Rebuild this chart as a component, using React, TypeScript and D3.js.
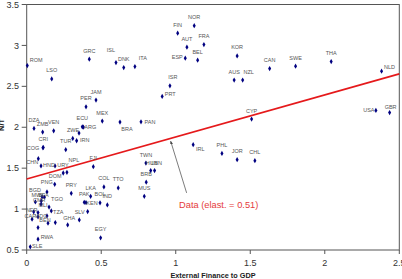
import * as d3 from "d3";

// country codes ("" = unlabeled point)
const countries = [
  "ROM", "LSO", "GRC", "ISL", "DNK", "ITA", "FIN", "NOR", "AUT", "FRA", "ESP", "BEL",
  "ISR", "PRT", "KOR", "AUS", "NZL", "CAN", "SWE", "THA", "NLD", "USA", "GBR", "CYP",
  "IRL", "PHL", "JOR", "CHL", "TWN", "HUN", "LBN", "BRB", "MUS", "PAN", "MEX", "BRA",
  "JAM", "PER", "ECU", "ARG", "DZA", "ZMB", "VEN", "ZWE", "", "IRN", "TUR", "CRI",
  "COG", "CHN", "HND", "URY", "DOM", "NPL", "FJI", "PNG", "PRY", "COL", "TTO", "LKA",
  "PAK", "KEN", "BOL", "IND", "SLV", "GHA", "", "EGY", "BGD", "MWI", "BFA", "CMR",
  "", "MLI", "TGO", "TZA", "NER", "", "CAF", "MDG", "", "BEN", "", "", "RWA", "SLE",
];

// external finance to GDP
const extFinance = [
  0.004, 0.168, 0.42, 0.599, 0.651, 0.726, 1.013, 1.124, 1.075, 1.189, 1.064, 1.147,
  0.961, 0.909, 1.412, 1.392, 1.449, 1.63, 1.804, 2.043, 2.381, 2.343, 2.435, 1.509,
  1.117, 1.31, 1.412, 1.531, 0.8, 0.832, 0.858, 0.802, 0.789, 0.767, 0.507, 0.626,
  0.465, 0.398, 0.373, 0.38, 0.049, 0.107, 0.181, 0.351, 0.309, 0.335, 0.262, 0.111,
  0.109, 0.078, 0.096, 0.19, 0.245, 0.27, 0.447, 0.188, 0.299, 0.518, 0.614, 0.429,
  0.386, 0.398, 0.492, 0.541, 0.409, 0.353, 0.275, 0.496, 0.136, 0.103, 0.119, 0.098,
  0.058, 0.096, 0.15, 0.165, 0.047, 0.076, 0.036, 0.076, 0.136, 0.143, 0.192, 0.076,
  0.076, 0.024,
];

// N/T
const ntValues = [
  2.754, 2.591, 2.832, 2.79, 2.729, 2.741, 3.149, 3.241, 2.978, 3.01, 2.844, 2.82,
  2.506, 2.376, 2.872, 2.576, 2.576, 2.717, 2.746, 2.802, 2.685, 2.205, 2.18, 2.1,
  1.787, 1.68, 1.604, 1.591, 1.563, 1.47, 1.47, 1.329, 1.156, 2.067, 2.076, 2.063,
  2.332, 2.25, 2.006, 2.002, 1.985, 1.941, 1.957, 1.929, 1.863, 1.835, 1.726, 1.754,
  1.748, 1.616, 1.527, 1.527, 1.441, 1.449, 1.518, 1.302, 1.193, 1.271, 1.259, 1.156,
  1.083, 1.079, 1.076, 1.051, 0.97, 0.868, 0.807, 0.649, 1.21, 1.152, 1.146, 1.1,
  1.088, 1.058, 1.024, 0.978, 0.966, 0.957, 0.876, 0.905, 0.917, 0.827, 0.835, 0.774,
  0.632, 0.539,
];

const fitIntercept = 1.368;
const fitSlope = 0.514;
const fitLabel = "Data (elast. = 0.51)";

const xTicks = [0, 0.5, 1, 1.5, 2, 2.5];
const yTicks = [0.5, 1, 1.5, 2, 2.5, 3, 3.5];

// label placement relative to the marker (px), default is centered above
const labelOffset: Record<string, [number, number]> = {
  ROM: [9, -6], ISL: [-5, -13], ITA: [8, -9], ESP: [-8, -1], ISR: [3, -9],
  PRT: [8, -2], NZL: [6, -8], NLD: [8, -4], USA: [-7, 0], GBR: [1, -6],
  IRL: [7, 4], HUN: [1, -8], LBN: [2, -8], PAN: [9, 0], BRA: [7, 7],
  ARG: [7, 0], ZWE: [-6, -3], IRN: [8, -1], COG: [-10, 0], CHN: [-6, 3],
  HND: [8, -1], URY: [8, -1], DOM: [-8, 3], NPL: [7, -12], PNG: [-8, -2],
  KEN: [6, 0], SLV: [-8, 0], GHA: [-10, -2], BGD: [-12, -2], MWI: [-5, -2],
  BFA: [-1, -2], CMR: [-2, -1], MLI: [2, 1], TGO: [8, -8], TZA: [7, 1],
  NER: [-2, -2], CAF: [-2, -3], MDG: [3, -1], BEN: [-3, -3], RWA: [9, -2],
  SLE: [7, -1],
};

export default function App() {
  const width = 402;
  const height = 279;
  const x = d3.scaleLinear([0, 2.5], [26.7, 399.3]);
  const y = d3.scaleLinear([0.5, 3.5], [250, 4.5]);
  const font = "'Liberation Sans', Arial, sans-serif";
  const diamond = d3.symbol(d3.symbolDiamond, 8)();

  const fitLine = d3.line<number>(
    (d) => x(d),
    (d) => y(fitIntercept + fitSlope * d),
  );

  // arrow from the annotation to the fitted line
  const ax0 = 1.073, ay0 = 1.198, ax1 = 0.966, ay1 = 1.83;

  return (
    <svg
      width={width}
      height={height}
      style={{ position: "absolute", left: 0, top: 0, background: "#fff" }}
      fontFamily={font}
    >
      <defs>
        <marker id="ah" viewBox="0 0 10 10" refX="9" refY="5" markerWidth="5" markerHeight="5" orient="auto">
          <path d="M0,1 L10,5 L0,9 z" fill="#444" />
        </marker>
      </defs>
      <rect x={x(0)} y={y(3.5)} width={x(2.5) - x(0)} height={y(0.5) - y(3.5)} fill="none" stroke="#555" strokeWidth={1} />

      {yTicks.map((t) => (
        <g key={"y" + t}>
          <line x1={x(0) - 5} x2={x(0)} y1={y(t)} y2={y(t)} stroke="#555" />
          <text x={19} y={y(t)} dy="0.35em" textAnchor="end" fontSize={9} fill="#333">
            {String(t)}
          </text>
        </g>
      ))}
      {xTicks.map((t) => (
        <g key={"x" + t}>
          <line x1={x(t)} x2={x(t)} y1={y(0.5)} y2={y(0.5) + 4} stroke="#555" />
          <text x={x(t)} y={266} textAnchor="middle" fontSize={9} fill="#333">
            {String(t)}
          </text>
        </g>
      ))}

      <text x={213} y={278.3} textAnchor="middle" fontSize={7.3} fontWeight="bold" fill="#222">
        External Finance to GDP
      </text>
      <text transform="translate(4,125) rotate(-90)" textAnchor="middle" fontSize={7.3} fontWeight="bold" fill="#222">
        N/T
      </text>

      <path d={fitLine([0, 2.5]) as string} fill="none" stroke="#e5191b" strokeWidth={1.7} />

      <line x1={x(ax0)} y1={y(ay0)} x2={x(ax1)} y2={y(ay1)} stroke="#444" strokeWidth={0.7} markerEnd="url(#ah)" />
      <text x={179} y={207.5} fontSize={9.3} fill="#e53b3b">
        {fitLabel}
      </text>

      <g fill="#000080">
        {extFinance.map((d, i) => (
          <path key={i} d={diamond as string} transform={`translate(${x(d)},${y(ntValues[i])})`} />
        ))}
      </g>
      <g fontSize={5.5} fill="#555" textAnchor="middle">
        {countries.map((c, i) => {
          if (!c) return null;
          const [dx, dy] = labelOffset[c] ?? [0, -8.5];
          return (
            <text key={c + i} x={x(extFinance[i]) + dx} y={y(ntValues[i]) + dy + 2}>
              {c}
            </text>
          );
        })}
      </g>
    </svg>
  );
}
